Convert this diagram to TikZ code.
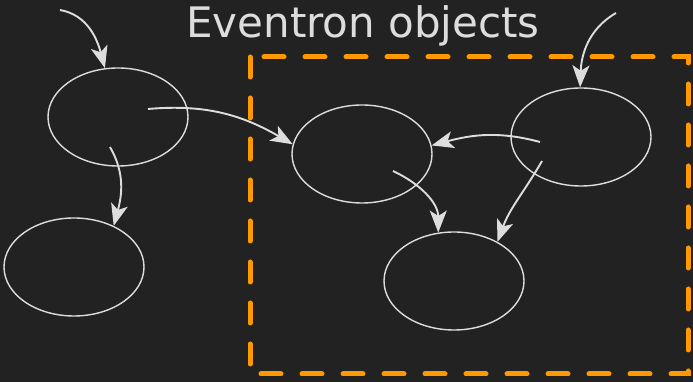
\documentclass[tikz,border=0pt]{standalone}
\usepackage{fontspec}
\setmainfont{DejaVu Sans}
\usetikzlibrary{shapes.geometric,arrows.meta,calc}
\definecolor{bg}{HTML}{222222}
\definecolor{ink}{HTML}{DDDDDD}
\definecolor{frame}{HTML}{FF9900}

\begin{document}
\begin{tikzpicture}[x=1pt,y=1pt,
    obj/.style={draw=ink, line width=1.4pt, ellipse, minimum width=140pt, minimum height=98pt, inner sep=0pt},
    flow/.style={draw=ink, line width=1.9pt, -{Stealth[length=22pt,width=17pt,inset=5.5pt]}}]
    \fill[bg] (0,0) rectangle (693,382);
    \useasboundingbox (0,0) rectangle (693,382);
    % group frame
    \draw[frame, line width=5pt, line cap=round, dash pattern=on 20pt off 21pt] (250,325) rectangle (688,8);
    \node[ink, font=\fontsize{42}{50}\selectfont, anchor=base] (title) at (363,344) {Eventron objects};
    \foreach \n/\x/\y in {e1/118/265, e2/74/115, e3/362/228, e4/581/245, e5/454/101}
        {\node[obj] (\n) at (\x,\y) {};}
    \coordinate (in1) at (60,372);
    \coordinate (in2) at (616,369);
    % edges start a bit inside their source
    \draw[flow] (in1) to[out=-10,in=105] (e1.105);
    \draw[flow] ($(e1)+(30,8)$) to[out=5,in=150] (e3.172);
    \draw[flow] ($(e1)+(-8,-30)$) to[out=-60,in=75] (e2.46);
    \draw[flow] (in2) to[out=210,in=88] (e4.91);
    \draw[flow] ($(e4)+(-41,-5)$) to[out=165,in=15] (e3.7);
    \draw[flow] ($(e4)+(-39,-24)$) to[out=-120,in=70] (e5.42);
    \draw[flow] ($(e3)+(31,-17)$) to[out=-25,in=90] (e5.108);
\end{tikzpicture}
\end{document}
